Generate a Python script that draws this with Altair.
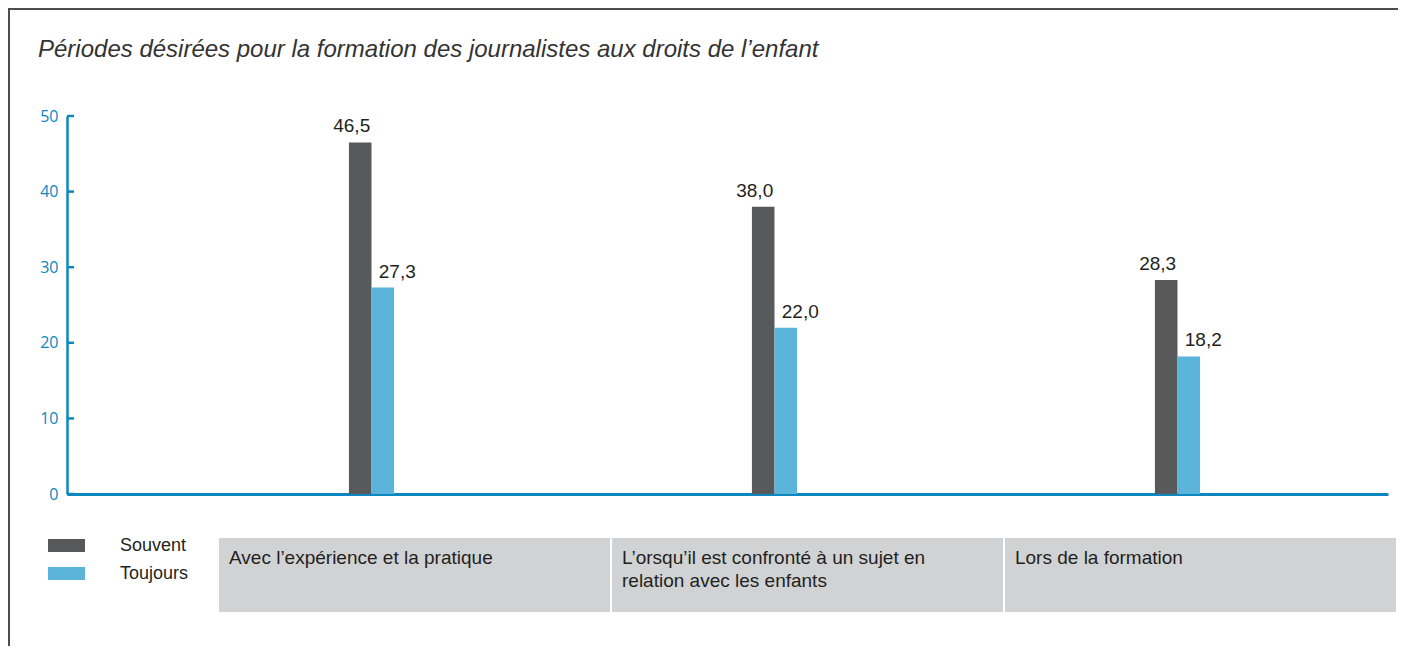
import altair as alt
import pandas as pd

categories = [
    "Avec l’expérience et la pratique",
    "L’orsqu’il est confronté à un sujet en relation avec les enfants",
    "Lors de la formation",
]
box_labels = [
    "Avec l’expérience et la pratique",
    "L’orsqu’il est confronté à un sujet en\nrelation avec les enfants",
    "Lors de la formation",
]
series = ["Souvent", "Toujours"]
souvent = [46.5, 38.0, 28.3]
toujours = [27.3, 22.0, 18.2]
y_ticks = [0, 10, 20, 30, 40, 50]
title_text = "Périodes désirées pour la formation des journalistes aux droits de l’enfant"

BLUE_AXIS = "#0e86c0"
colors = ["#58595b", "#5bb4d9"]
TEXT = "#231f20"
FONT = "Liberation Sans"

rows = []
for c, s, t in zip(categories, souvent, toujours):
    rows.append({"cat": c, "series": "Souvent", "value": s, "label": f"{s:.1f}".replace(".", ",")})
    rows.append({"cat": c, "series": "Toujours", "value": t, "label": f"{t:.1f}".replace(".", ",")})
df = pd.DataFrame(rows)
box_df = pd.DataFrame({"cat": categories, "box_label": box_labels})
tick_df = pd.DataFrame({"value": y_ticks})
title_df = pd.DataFrame({"t": [title_text]})

W, H = 1321, 378

xscale = alt.Scale(domain=categories, paddingInner=0.888, paddingOuter=0.583, align=0.6)
offscale = alt.Scale(domain=series, paddingInner=0, paddingOuter=0)
yscale = alt.Scale(domain=[0, 50], nice=False)

x_enc = alt.X("cat:N", sort=categories, scale=xscale,
              axis=alt.Axis(title=None, labels=False, ticks=False, domainColor=BLUE_AXIS,
                            domainWidth=3, grid=False))
off_enc = alt.XOffset("series:N", sort=series, scale=offscale)
y_axis = alt.Axis(title=None, values=y_ticks, ticks=False, grid=False,
                  domainColor=BLUE_AXIS, domainWidth=2.5, labelColor=BLUE_AXIS,
                  labelFontSize=16, labelFont="Open Sans", labelPadding=9)
y_enc = alt.Y("value:Q", scale=yscale, axis=y_axis)

base = alt.Chart(df)
bars = base.mark_bar().encode(
    x=x_enc,
    xOffset=off_enc,
    y=y_enc,
    color=alt.Color("series:N", sort=series,
                    scale=alt.Scale(domain=series, range=colors),
                    legend=alt.Legend(orient="none", legendX=-19, legendY=411, title=None,
                                      symbolType="M-1,-0.35H1V0.35H-1Z", symbolSize=1369,
                                      symbolStrokeWidth=0, labelFontSize=18, labelFont=FONT,
                                      labelColor=TEXT, labelOffset=35, rowPadding=-3, padding=0)),
)
lab_s = base.transform_filter(alt.datum.series == "Souvent").mark_text(
    align="right", baseline="bottom", dx=10, dy=-6, fontSize=19, font=FONT, color=TEXT
).encode(x=x_enc, xOffset=off_enc, y=y_enc, text="label:N")
lab_t = base.transform_filter(alt.datum.series == "Toujours").mark_text(
    align="left", baseline="bottom", dx=-4, dy=-6, fontSize=19, font=FONT, color=TEXT
).encode(x=x_enc, xOffset=off_enc, y=y_enc, text="label:N")

ticks = alt.Chart(tick_df).mark_rule(color=BLUE_AXIS, strokeWidth=2.5).encode(
    y=y_enc, x=alt.value(0), x2=alt.value(7)
)

main = alt.layer(bars, lab_s, lab_t, ticks)

box_scale = alt.Scale(domain=categories, range=[152, 1329], paddingInner=0.005, paddingOuter=0)
boxes = alt.Chart(box_df).mark_rect(color="#d1d2d4").encode(
    x=alt.X("cat:N", sort=categories, scale=box_scale, axis=None),
    y=alt.value(422), y2=alt.value(496),
)
box_text = alt.Chart(box_df).mark_text(
    align="left", baseline="top", dx=10, fontSize=19, font=FONT, color=TEXT,
    lineBreak="\n", lineHeight=23
).encode(
    x=alt.X("cat:N", sort=categories, scale=box_scale, axis=None, bandPosition=0),
    y=alt.value(433), text="box_label:N",
)
bottom = alt.layer(boxes, box_text)

title = alt.Chart(title_df).mark_text(
    align="left", baseline="alphabetic", fontSize=24, font=FONT, fontStyle="italic",
    color="#333333"
).encode(x=alt.value(-29), y=alt.value(-59), text="t:N")

frame_top = alt.Chart(alt.Data(values=[{}])).mark_rule(color="#4d4d4d", strokeWidth=2).encode(
    x=alt.value(-59), x2=alt.value(1345), y=alt.value(-107)
)
frame_left = alt.Chart(alt.Data(values=[{}])).mark_rule(color="#4d4d4d", strokeWidth=2).encode(
    x=alt.value(-58), y=alt.value(-108), y2=alt.value(540)
)

chart = alt.layer(main, bottom, title, frame_top, frame_left).resolve_scale(x="independent").properties(
    width=W, height=H,
    background="white",
    autosize=alt.AutoSizeParams(type="none"),
    padding={"left": 59, "top": 108, "right": 10, "bottom": 152},
).configure_view(stroke=None, strokeWidth=0)

chart.save("out.html", embed_options={"renderer": "svg", "actions": False})
